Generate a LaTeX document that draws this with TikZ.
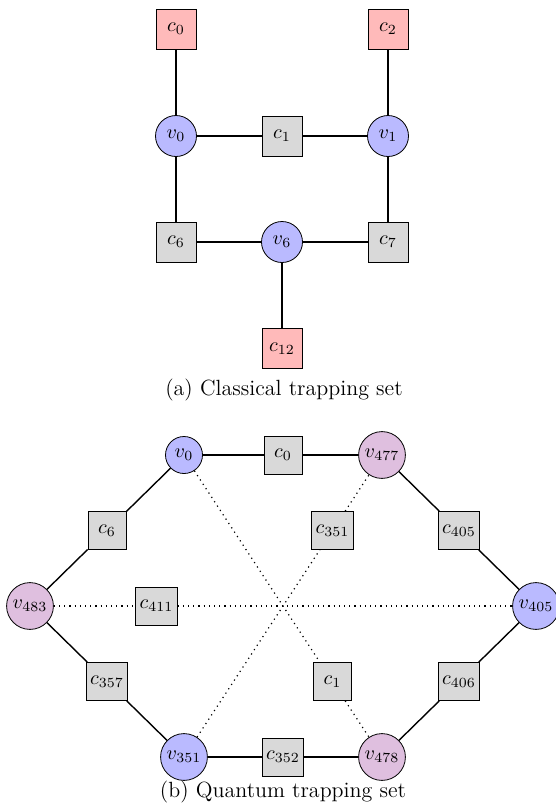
\documentclass[tikz,border=0pt]{standalone}
\begin{document}
\begin{tikzpicture}[x=0.5pt,y=-0.5pt,
  varnode/.style={circle,draw,thin,inner sep=2pt,minimum size=18.5pt},
  vblue/.style={varnode,fill=blue!27},
  vpink/.style={varnode,fill=violet!25},
  chknode/.style={rectangle,draw,thin,inner sep=2pt,minimum size=19pt},
  cgray/.style={chknode,fill=gray!30},
  cred/.style={chknode,fill=red!27},
  big/.style={minimum size=20pt},
  edge/.style={line width=0.7pt},
  dotedge/.style={line width=0.6pt,dotted},
  caption/.style={inner sep=0pt,font=\fontsize{11}{13}\selectfont}]
\useasboundingbox (0,0) rectangle (556,810);

% ---- (a) classical trapping set ----
\node[cred,big]  (a-c0)  at (176,29)    {$c_0$};
\node[cred,big]  (a-c2)  at (388,29)    {$c_2$};
\node[vblue,big,minimum size=20.5pt] (a-v0) at (176,136) {$v_0$};
\node[cgray,big] (a-c1)  at (282,136)   {$c_1$};
\node[vblue,big,minimum size=20.5pt] (a-v1) at (388,136) {$v_1$};
\node[cgray,big] (a-c6)  at (176,242)   {$c_6$};
\node[vblue,big,minimum size=20.5pt] (a-v6) at (282,242) {$v_6$};
\node[cgray,big] (a-c7)  at (388,242)   {$c_7$};
\node[cred,big]  (a-c12) at (282,348.5) {$c_{12}$};

\draw[edge] (a-c0) -- (a-v0);
\draw[edge] (a-c2) -- (a-v1);
\draw[edge] (a-v0) -- (a-c1);
\draw[edge] (a-c1) -- (a-v1);
\draw[edge] (a-v0) -- (a-c6);
\draw[edge] (a-v1) -- (a-c7);
\draw[edge] (a-c6) -- (a-v6);
\draw[edge] (a-v6) -- (a-c7);
\draw[edge] (a-v6) -- (a-c12);

\node[caption] (cap-a) at (284,390) {(a) Classical trapping set};

% ---- (b) quantum trapping set ----
\node[vblue] (b-v0)   at (184,455)   {$v_0$};
\node[cgray] (b-c0)   at (283,455)   {$c_0$};
\node[vpink] (b-v477) at (382,455)   {$v_{477}$};
\node[cgray] (b-c6)   at (107,530.5) {$c_6$};
\node[cgray] (b-c351) at (332.5,530.5) {$c_{351}$};
\node[cgray] (b-c405) at (459,530.5) {$c_{405}$};
\node[vpink] (b-v483) at (30,606)    {$v_{483}$};
\node[cgray] (b-c411) at (156.5,606) {$c_{411}$};
\node[vblue] (b-v405) at (536,606)   {$v_{405}$};
\node[cgray] (b-c357) at (107,681.5) {$c_{357}$};
\node[cgray] (b-c1)   at (332.5,681.5) {$c_1$};
\node[cgray] (b-c406) at (459,681.5) {$c_{406}$};
\node[vblue] (b-v351) at (184,757)   {$v_{351}$};
\node[cgray] (b-c352) at (283,757)   {$c_{352}$};
\node[vpink] (b-v478) at (382,757)   {$v_{478}$};

% outer hexagon
\draw[edge] (b-v0) -- (b-c0);
\draw[edge] (b-c0) -- (b-v477);
\draw[edge] (b-v477) -- (b-c405);
\draw[edge] (b-c405) -- (b-v405);
\draw[edge] (b-v405) -- (b-c406);
\draw[edge] (b-c406) -- (b-v478);
\draw[edge] (b-v478) -- (b-c352);
\draw[edge] (b-c352) -- (b-v351);
\draw[edge] (b-v351) -- (b-c357);
\draw[edge] (b-c357) -- (b-v483);
\draw[edge] (b-v483) -- (b-c6);
\draw[edge] (b-c6) -- (b-v0);

% inner diagonals
\draw[dotedge] (b-v483) -- (b-c411);
\draw[dotedge] (b-c411) -- (b-v405);
\draw[dotedge] (b-v0) -- (b-c1);
\draw[dotedge] (b-c1) -- (b-v478);
\draw[dotedge] (b-v351) -- (b-c351);
\draw[dotedge] (b-c351) -- (b-v477);

\node[caption] (cap-b) at (283,792) {(b) Quantum trapping set};
\end{tikzpicture}
\end{document}
